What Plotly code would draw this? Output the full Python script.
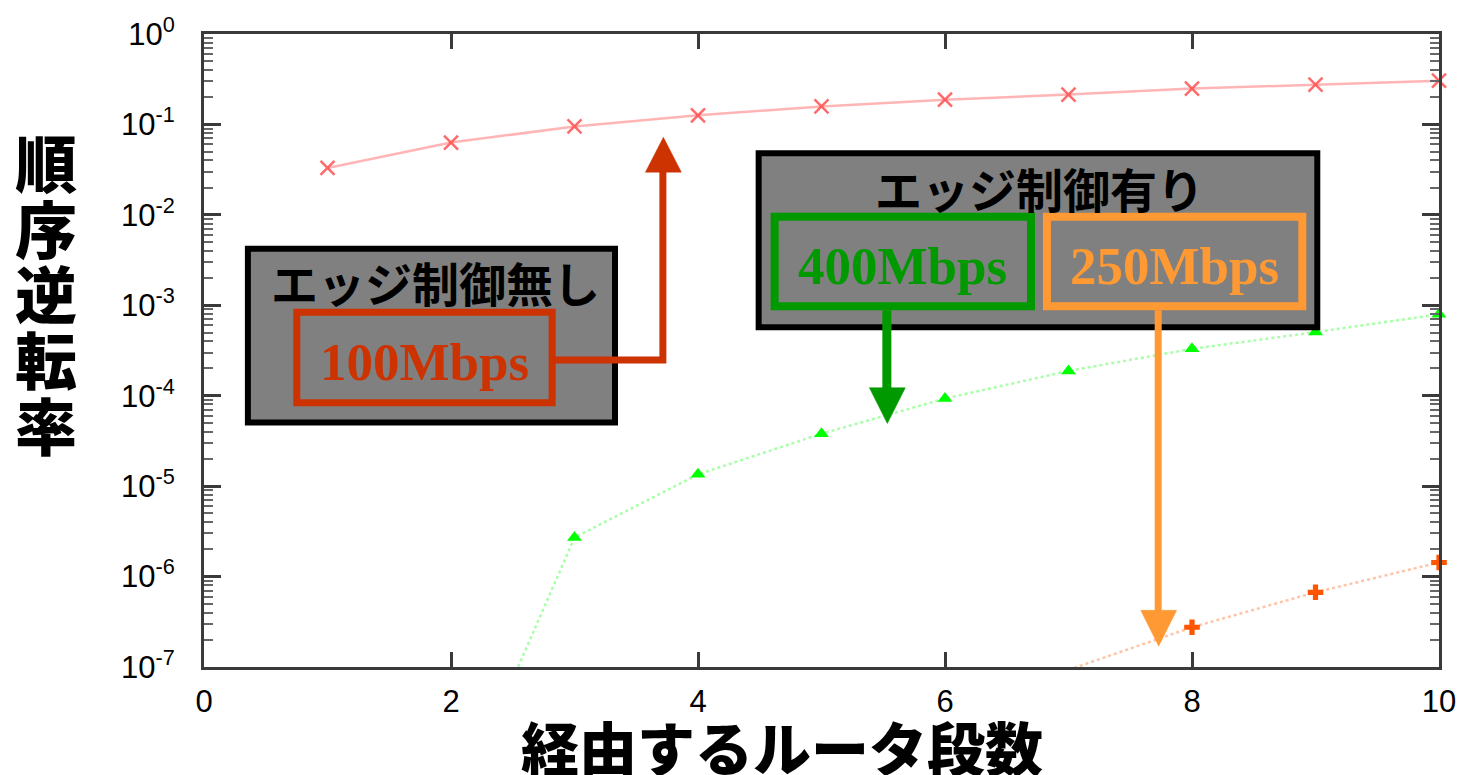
import plotly.graph_objects as go

# Hop counts and reordering rates per scenario
hops_no_edge = [1, 2, 3, 4, 5, 6, 7, 8, 9, 10]
rate_100m = [0.033, 0.063, 0.095, 0.126, 0.158, 0.188, 0.214, 0.249, 0.275, 0.305]

hops_400m = [2, 3, 4, 5, 6, 7, 8, 9, 10]
rate_400m = [2.0e-9, 2.7e-6, 1.35e-5, 3.8e-5, 9.3e-5, 1.88e-4, 3.3e-4, 5.05e-4, 7.95e-4]

hops_250m = [7, 8, 9, 10]
rate_250m = [9.3e-8, 2.75e-7, 6.7e-7, 1.43e-6]

x_ticks = [0, 2, 4, 6, 8, 10]
y_tick_vals = [1e-7, 1e-6, 1e-5, 1e-4, 1e-3, 1e-2, 1e-1, 1]
y_tick_text = ["10<sup>-7</sup>", "10<sup>-6</sup>", "10<sup>-5</sup>", "10<sup>-4</sup>",
               "10<sup>-3</sup>", "10<sup>-2</sup>", "10<sup>-1</sup>", "10<sup>0</sup>"]

y_title_chars = ["順", "序", "逆", "転", "率"]
x_title = "経由するルータ段数"

# page geometry (pixels) of the plotting area
W, H = 1468, 775
L, R, T, B = 204, 1442, 30, 667


def px(x):
    return (x - L) / (R - L)


def py(y):
    return (B - y) / (B - T)


fig = go.Figure()

fig.add_trace(go.Scatter(
    x=hops_no_edge, y=rate_100m, mode="lines+markers", cliponaxis=False,
    line=dict(color="rgba(255,120,120,0.55)", width=2.5),
    marker=dict(symbol="x-thin", size=14, line=dict(color="rgba(255,70,70,0.8)", width=2.5)),
    showlegend=False))

fig.add_trace(go.Scatter(
    x=hops_400m, y=rate_400m, mode="lines+markers", cliponaxis=False,
    line=dict(color="#a8ffa8", width=2.5, dash="dot"),
    marker=dict(symbol="triangle-up", size=13, color="#00ff00"),
    showlegend=False))

fig.add_trace(go.Scatter(
    x=hops_250m, y=rate_250m, mode="lines+markers", cliponaxis=False,
    line=dict(color="#ffc4a8", width=2.5, dash="dot"),
    marker=dict(symbol="cross", size=13, color="#ff5500"),
    showlegend=False))

shapes = []


def rect(x0, y0, x1, y1, color, width, fill=None):
    shapes.append(dict(type="rect", xref="paper", yref="paper",
                       x0=px(x0), x1=px(x1), y0=py(y1), y1=py(y0),
                       line=dict(color=color, width=width),
                       fillcolor=fill if fill else "rgba(0,0,0,0)", layer="above"))


def polyline(points, color, width):
    d = "M " + " L ".join(f"{px(a):.5f},{py(b):.5f}" for a, b in points)
    shapes.append(dict(type="path", xref="paper", yref="paper", path=d,
                       line=dict(color=color, width=width), layer="above"))


def head(points, color):
    d = "M " + " L ".join(f"{px(a):.5f},{py(b):.5f}" for a, b in points) + " Z"
    shapes.append(dict(type="path", xref="paper", yref="paper", path=d,
                       line=dict(color=color, width=0.5), fillcolor=color, layer="above"))


RED, GREEN, ORANGE = "#cc3300", "#009900", "#ff9933"

# box: without edge control
rect(248, 246, 616, 421, "black", 6, "#808080")
rect(297, 310, 553, 401, RED, 7)
polyline([(553, 358), (664, 358), (664, 168)], RED, 7)
head([(646.5, 169), (682.5, 169), (664.5, 134)], RED)

# box: with edge control
rect(760, 150, 1320, 325, "black", 6, "#808080")
rect(776, 214, 1033, 304, GREEN, 8)
rect(1049, 214, 1305, 304, ORANGE, 8)
polyline([(888.5, 308), (888.5, 388)], GREEN, 9)
head([(871, 386), (907, 386), (889, 422)], GREEN)
polyline([(1160.5, 308), (1160.5, 612)], ORANGE, 7)
head([(1143, 610), (1179, 610), (1161, 646)], ORANGE)

annotations = []


def label(x, y, text, size, color, family, weight="bold"):
    annotations.append(dict(xref="paper", yref="paper", x=px(x), y=py(y), text=text,
                            showarrow=False, xanchor="center", yanchor="middle",
                            font=dict(family=family, size=size, color=color, weight=weight)))


JP = "Noto Sans CJK JP"
SERIF = "Liberation Serif"

label(436, 279, "エッジ制御無し", 47, "black", JP)
label(425, 360, "100Mbps", 53, RED, SERIF)
label(1042, 184, "エッジ制御有り", 47, "black", JP)
label(904, 263, "400Mbps", 53, GREEN, SERIF)
label(1177, 263, "250Mbps", 53, ORANGE, SERIF)

for i, ch in enumerate(y_title_chars):
    label(46, 158 + 66 * i, ch, 62, "black", JP, 900)

label(783, 746, x_title, 58, "black", JP, 900)

axis_color = "#3a3a3a"
tick_font = dict(family="Liberation Sans", size=31, color="black")

fig.update_layout(
    width=W, height=H,
    margin=dict(l=L, r=W - R, t=T, b=H - B, pad=0),
    paper_bgcolor="white", plot_bgcolor="white",
    shapes=shapes, annotations=annotations,
    xaxis=dict(range=[0, 10], tickmode="array", tickvals=x_ticks,
               ticks="inside", ticklen=15, tickwidth=3, tickcolor=axis_color,
               showline=True, linecolor=axis_color, linewidth=3, mirror="allticks",
               showgrid=False, zeroline=False, tickfont=tick_font, ticklabelstandoff=5),
    yaxis=dict(type="log", range=[-7, 0], tickmode="array",
               tickvals=y_tick_vals, ticktext=y_tick_text,
               ticks="inside", ticklen=17, tickwidth=3, tickcolor=axis_color,
               minor=dict(dtick="D1", ticks="inside", ticklen=9, tickwidth=2,
                          tickcolor="#666666", showgrid=False),
               showline=True, linecolor=axis_color, linewidth=3, mirror="allticks",
               showgrid=False, zeroline=False, tickfont=tick_font, ticklabelstandoff=20),
)

fig.write_html("out.html")
